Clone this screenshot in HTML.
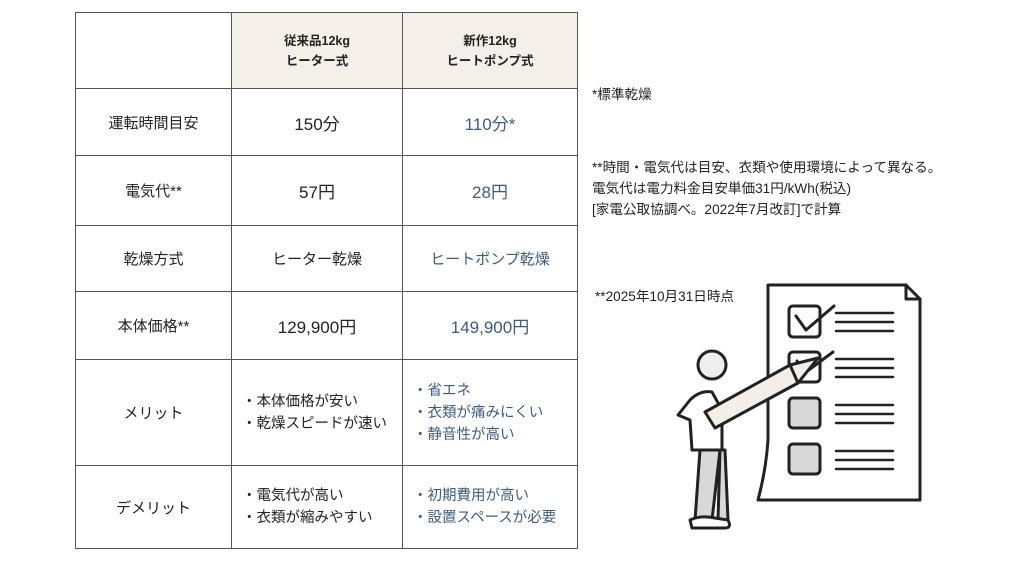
<!DOCTYPE html>
<html><head><meta charset="utf-8"><style>
body{margin:0;width:1024px;height:576px;background:#fff;font-family:"Liberation Sans","Noto Sans CJK JP",sans-serif;color:#222;position:relative;overflow:hidden}
table{position:absolute;left:75px;top:12px;border-collapse:collapse;}
td{border:1.5px solid #555;text-align:center;font-size:15px;padding:0}
.h{background:#f4f0e8;font-size:12.5px;font-weight:bold;line-height:20px}
.b{color:#3d5c7c}
.l{text-align:left;padding-left:10px;line-height:22px;font-size:14.5px}
.n{position:absolute;font-size:13.6px;line-height:21px;color:#222}
</style></head><body>
<table>
<tr style="height:76px"><td style="width:155px"></td><td class="h" style="width:170px">従来品12kg<br>ヒーター式</td><td class="h" style="width:174px">新作12kg<br>ヒートポンプ式</td></tr>
<tr style="height:67px"><td>運転時間目安</td><td style="font-size:17px">150分</td><td class="b" style="font-size:17px">110分*</td></tr>
<tr style="height:70px"><td>電気代**</td><td style="font-size:17px">57円</td><td class="b" style="font-size:17px">28円</td></tr>
<tr style="height:66px"><td>乾燥方式</td><td>ヒーター乾燥</td><td class="b">ヒートポンプ乾燥</td></tr>
<tr style="height:68px"><td>本体価格**</td><td style="font-size:17px">129,900円</td><td class="b" style="font-size:17px">149,900円</td></tr>
<tr style="height:106px"><td>メリット</td><td class="l">・本体価格が安い<br>・乾燥スピードが速い</td><td class="l b">・省エネ<br>・衣類が痛みにくい<br>・静音性が高い</td></tr>
<tr style="height:83px"><td>デメリット</td><td class="l">・電気代が高い<br>・衣類が縮みやすい</td><td class="l b">・初期費用が高い<br>・設置スペースが必要</td></tr>
</table>
<div class="n" style="left:592px;top:84px">*標準乾燥</div>
<div class="n" style="left:592px;top:157px">**時間・電気代は目安、衣類や使用環境によって異なる。<br>電気代は電力料金目安単価31円/kWh(税込)<br>[家電公取協調べ。2022年7月改訂]で計算</div>
<div class="n" style="left:595px;top:286px">**2025年10月31日時点</div>
<svg style="position:absolute;left:0;top:0" width="1024" height="576" fill="none" stroke="#222" stroke-width="3" stroke-linejoin="round" stroke-linecap="round">
<path d="M768 285 H906 L920 299 V500 H758 Q766 470 768 440 Z" fill="#fff"/>
<path d="M906 285 V299 H920"/>
<rect x="789" y="306" width="31" height="31" rx="4" fill="#fff"/>
<rect x="789" y="352" width="31" height="30" rx="4" fill="#fff"/>
<rect x="789" y="398" width="31" height="30" rx="4" fill="#d8d8d8"/>
<rect x="789" y="444" width="31" height="30" rx="4" fill="#d8d8d8"/>
<path d="M796 316 L806 330 L834 306" /><path d="M797 361 L806 372 L833 352"/>
<g stroke-width="2.5"><path d="M836 313H893M836 322H893M836 331H893M836 359H893M836 368H893M836 377H893M836 405H893M836 414H893M836 423H893M836 451H893M836 460H893M836 469H893"/></g>
<path d="M700 450 L695 520 H712 L720 450 Z M720 450 L718 520 H728 L725 450 Z" fill="#d8d8d8"/>
<path d="M690 520 Q700 515 715 518 L728 520 Q732 528 725 528 H692 Z" fill="#fff"/>
<path d="M690 400 Q700 390 712 392 L722 410 L722 450 H692 L690 420 L678 415 Z" fill="#fff"/>
<circle cx="712" cy="365" r="14" fill="#eee"/>
<path d="M705 412 L790 365 L818 358 L798 383 L715 428 Z" fill="#f3efe6"/>
<path d="M790 365 L798 383"/>
</svg>
</body></html>
